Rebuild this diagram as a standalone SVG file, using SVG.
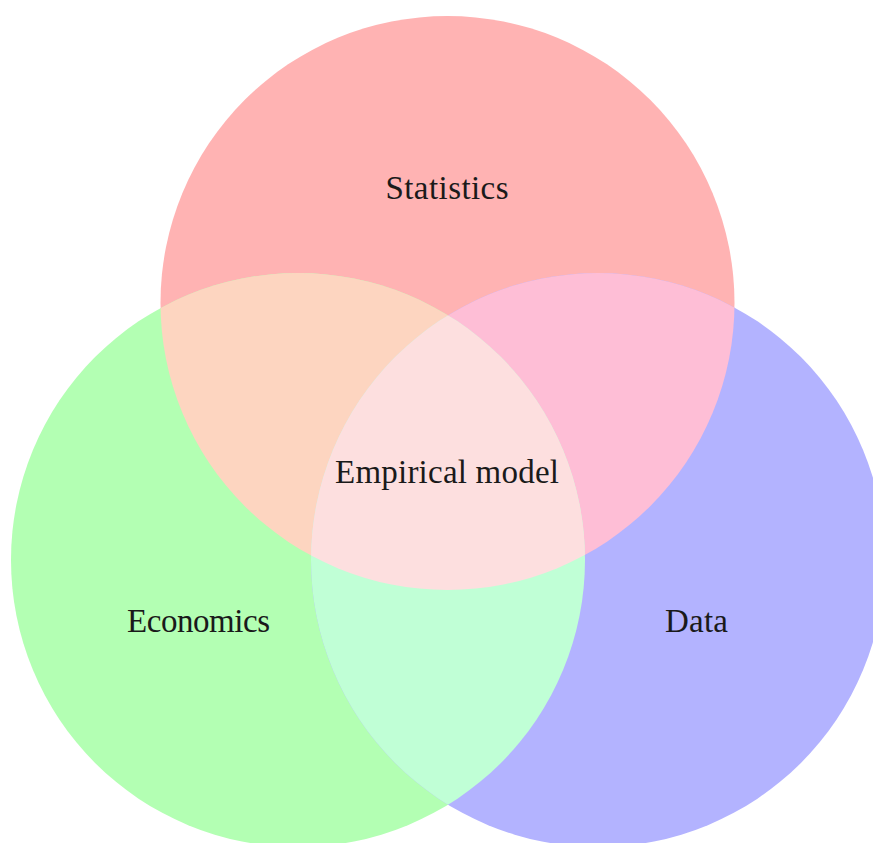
<svg xmlns="http://www.w3.org/2000/svg" width="873" height="843" viewBox="0 0 873 843">
<style>
.lbl{font-family:"Liberation Serif","DejaVu Serif",serif;font-size:33px;fill:#1a1a1a;text-anchor:middle}
</style>
<defs>
<circle id="cR" cx="447.5" cy="303" r="287"/>
<circle id="cG" cx="298" cy="560" r="287"/>
<circle id="cB" cx="598" cy="560" r="287"/>
<clipPath id="clipR"><use href="#cR"/></clipPath>
<clipPath id="clipG"><use href="#cG"/></clipPath>
</defs>
<rect width="873" height="843" fill="#ffffff"/>
<g id="statistics">
<use href="#cR" fill="#ffb3b3"/>
</g>
<g id="economics">
<use href="#cG" fill="#b3ffb3"/>
</g>
<g id="data">
<use href="#cB" fill="#b3b3ff"/>
</g>
<g id="overlaps">
<g clip-path="url(#clipR)">
<use href="#cG" fill="#fdd5c0"/>
<use href="#cB" fill="#febed6"/>
</g>
<g clip-path="url(#clipG)">
<use href="#cB" fill="#c0ffd6"/>
</g>
<g clip-path="url(#clipR)">
<g clip-path="url(#clipG)">
<use href="#cB" fill="#fddfdf"/>
</g>
</g>
</g>
<g id="labels">
<text class="lbl" x="447" y="199" textLength="123">Statistics</text>
<text class="lbl" x="447" y="483" textLength="224">Empirical model</text>
<text class="lbl" x="198.5" y="632" textLength="143">Economics</text>
<text class="lbl" x="696.5" y="632" textLength="63">Data</text>
</g>
</svg>
